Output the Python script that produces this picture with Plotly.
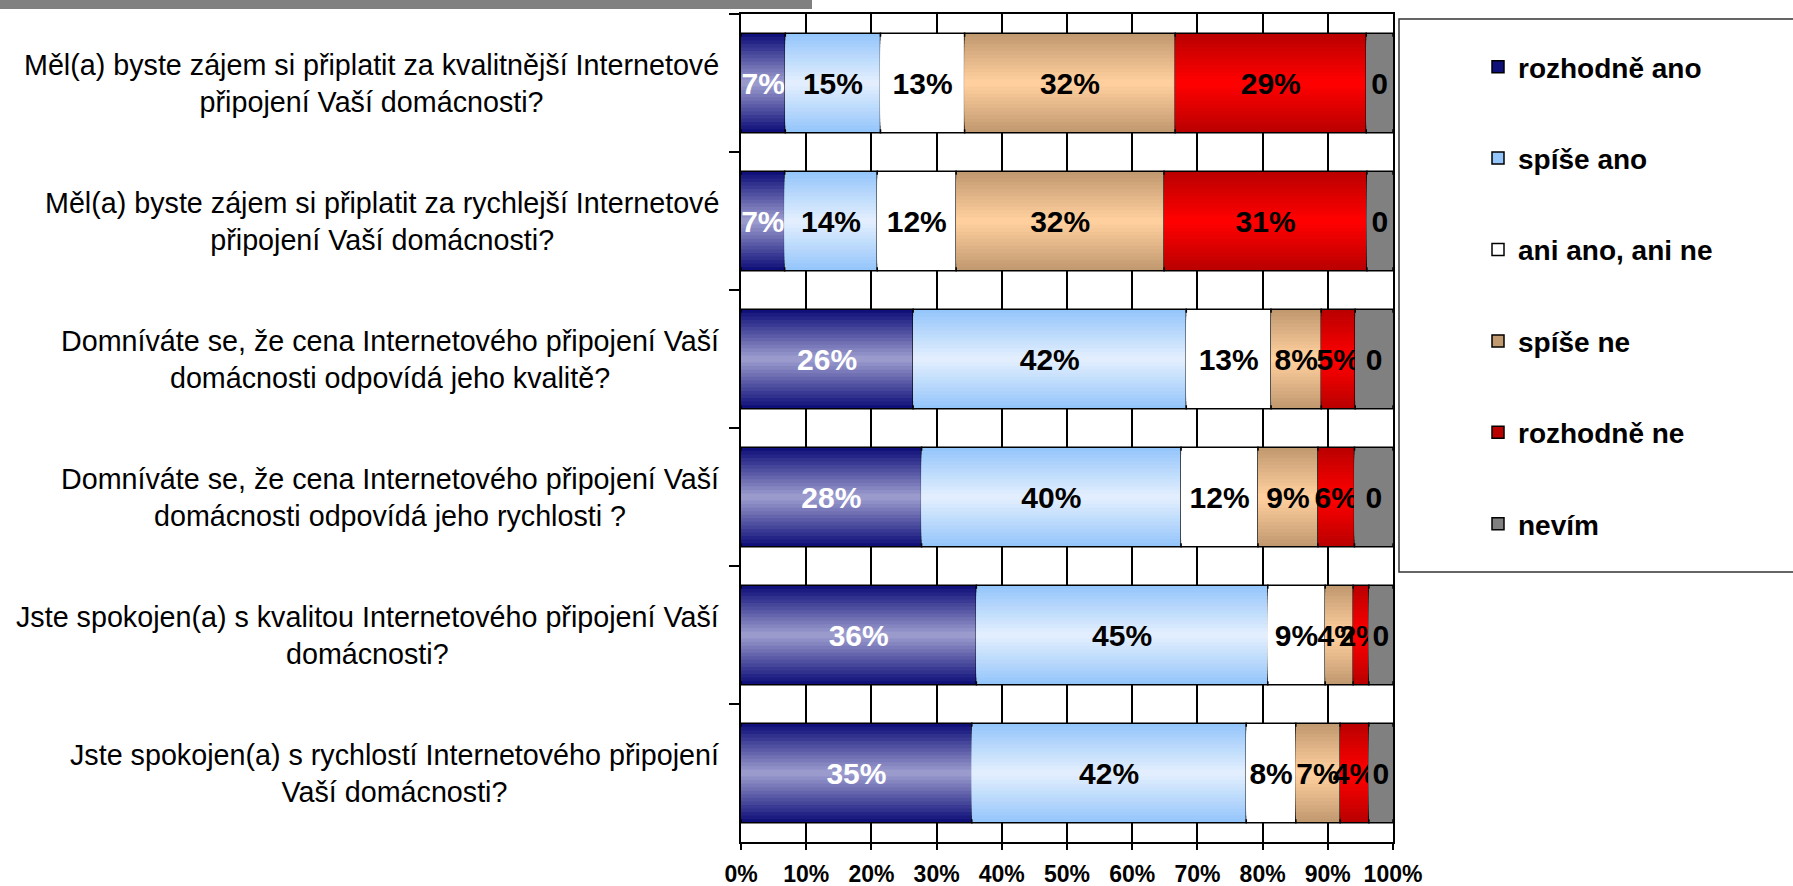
import plotly.graph_objects as go

# questions (top to bottom)
questions = [
    "Měl(a) byste zájem si připlatit za kvalitnější Internetové<br>připojení Vaší domácnosti?",
    "Měl(a) byste zájem si připlatit za rychlejší Internetové<br>připojení Vaší domácnosti?",
    "Domníváte se, že cena Internetového připojení Vaší<br>domácnosti odpovídá jeho kvalitě?",
    "Domníváte se, že cena Internetového připojení Vaší<br>domácnosti odpovídá jeho rychlosti ?",
    "Jste spokojen(a) s kvalitou Internetového připojení Vaší<br>domácnosti?",
    "Jste spokojen(a) s rychlostí Internetového připojení<br>Vaší domácnosti?",
]

# answer shares (fractions of respondents) per question
rozhodne_ano = [0.068, 0.067, 0.264, 0.277, 0.361, 0.354]
spise_ano = [0.146, 0.142, 0.419, 0.398, 0.447, 0.421]
ani_ano_ani_ne = [0.129, 0.121, 0.130, 0.118, 0.088, 0.076]
spise_ne = [0.323, 0.319, 0.077, 0.092, 0.043, 0.068]
rozhodne_ne = [0.293, 0.311, 0.052, 0.056, 0.024, 0.044]
nevim = [0.041, 0.040, 0.058, 0.059, 0.037, 0.037]

series_names = ["rozhodně ano", "spíše ano", "ani ano, ani ne", "spíše ne", "rozhodně ne", "nevím"]
series_values = [rozhodne_ano, spise_ano, ani_ano_ani_ne, spise_ne, rozhodne_ne, nevim]

# (edge colour, centre colour, label colour, label format)
styles = [
    ("#10107a", "#9a9acd", "white", "%{x:.0%}"),
    ("#95c6fb", "#e2eefd", "black", "%{x:.0%}"),
    ("#ffffff", "#ffffff", "black", "%{x:.0%}"),
    ("#c29a70", "#ffcf9e", "black", "%{x:.0%}"),
    ("#bb0000", "#ff0000", "black", "%{x:.0%}"),
    ("#808080", "#808080", "black", "%{x:.0f}"),
]

FONT = "Arial, Liberation Sans, sans-serif"
W, H = 1793, 886
L, R, T, B = 741, 1393, 14, 842


def px_x(px):
    return (px - L) / (R - L)


def px_y(py):
    return (B - py) / (B - T)


def mix(c1, c2, t):
    a = [int(c1[i:i + 2], 16) for i in (1, 3, 5)]
    b = [int(c2[i:i + 2], 16) for i in (1, 3, 5)]
    return "rgb(%d,%d,%d)" % tuple(round(a[k] + (b[k] - a[k]) * t) for k in range(3))


BAR_W = 0.72
N_LAYERS = 14

fig = go.Figure()
bases = [0.0] * len(questions)
for name, vals, (edge, centre, tcol, tmpl) in zip(series_names, series_values, styles):
    for k in range(N_LAYERS):
        t = k / (N_LAYERS - 1)
        outer = k == 0
        inner = k == N_LAYERS - 1
        fig.add_trace(go.Bar(
            y=questions, x=vals, base=list(bases), orientation="h",
            width=BAR_W * (1 - k / N_LAYERS),
            name=name, legendgroup=name, showlegend=outer,
            marker=dict(color=mix(edge, centre, t),
                        line=dict(color="black", width=1.5 if outer else 0)),
            text=[v for v in vals] if inner else None,
            texttemplate=tmpl if inner else None,
            textposition="inside" if inner else "none",
            insidetextanchor="middle", textangle=0, constraintext="none",
            textfont=dict(family=FONT, size=30, color=tcol, weight="bold"),
            hoverinfo="skip",
        ))
    bases = [b + v for b, v in zip(bases, vals)]

# question labels, centred lines, right edge next to the axis
for q in questions:
    fig.add_annotation(x=px_x(721), xref="paper", y=q, yref="y", text=q,
                       xanchor="right", align="center", showarrow=False,
                       font=dict(family=FONT, size=28.7, color="black"))

fig.update_layout(
    width=W, height=H,
    margin=dict(l=L, r=W - R, t=T, b=H - B),
    barmode="overlay",
    plot_bgcolor="white", paper_bgcolor="white",
    font=dict(family=FONT, color="black"),
    xaxis=dict(range=[0, 1], dtick=0.1, tickformat=".0%",
               showgrid=True, gridcolor="black", gridwidth=1.5,
               showline=True, linecolor="black", linewidth=1.5, mirror=True,
               ticks="outside", ticklen=6, tickcolor="black", tickwidth=1.5,
               tickfont=dict(family=FONT, size=23, color="black", weight="bold"),
               ticklabelstandoff=5, automargin=False,
               zeroline=False, fixedrange=True),
    yaxis=dict(autorange="reversed", showticklabels=False, tickson="boundaries",
               ticks="outside", ticklen=10, tickcolor="black", tickwidth=1.5,
               showgrid=False, showline=True, linecolor="black", linewidth=1.5,
               mirror=True, automargin=False, fixedrange=True),
    legend=dict(x=px_x(1478), y=px_y(42), xanchor="left", yanchor="top",
                traceorder="grouped", tracegroupgap=52,
                bgcolor="rgba(0,0,0,0)", borderwidth=0,
                font=dict(family=FONT, size=28, color="black", weight="bold")),
    shapes=[
        # grey strip at top left
        dict(type="rect", xref="paper", yref="paper",
             x0=px_x(0), x1=px_x(812), y0=px_y(0), y1=px_y(9),
             fillcolor="#808080", line=dict(width=0), layer="above"),
        # legend frame running off the right edge
        dict(type="rect", xref="paper", yref="paper",
             x0=px_x(1399), x1=px_x(1805), y0=px_y(19), y1=px_y(572),
             fillcolor="rgba(0,0,0,0)", line=dict(color="#333333", width=1.5)),
    ],
    showlegend=True,
)

fig.write_html("out.html", config={"displayModeBar": False},
               post_script="document.body.style.margin='0';")
